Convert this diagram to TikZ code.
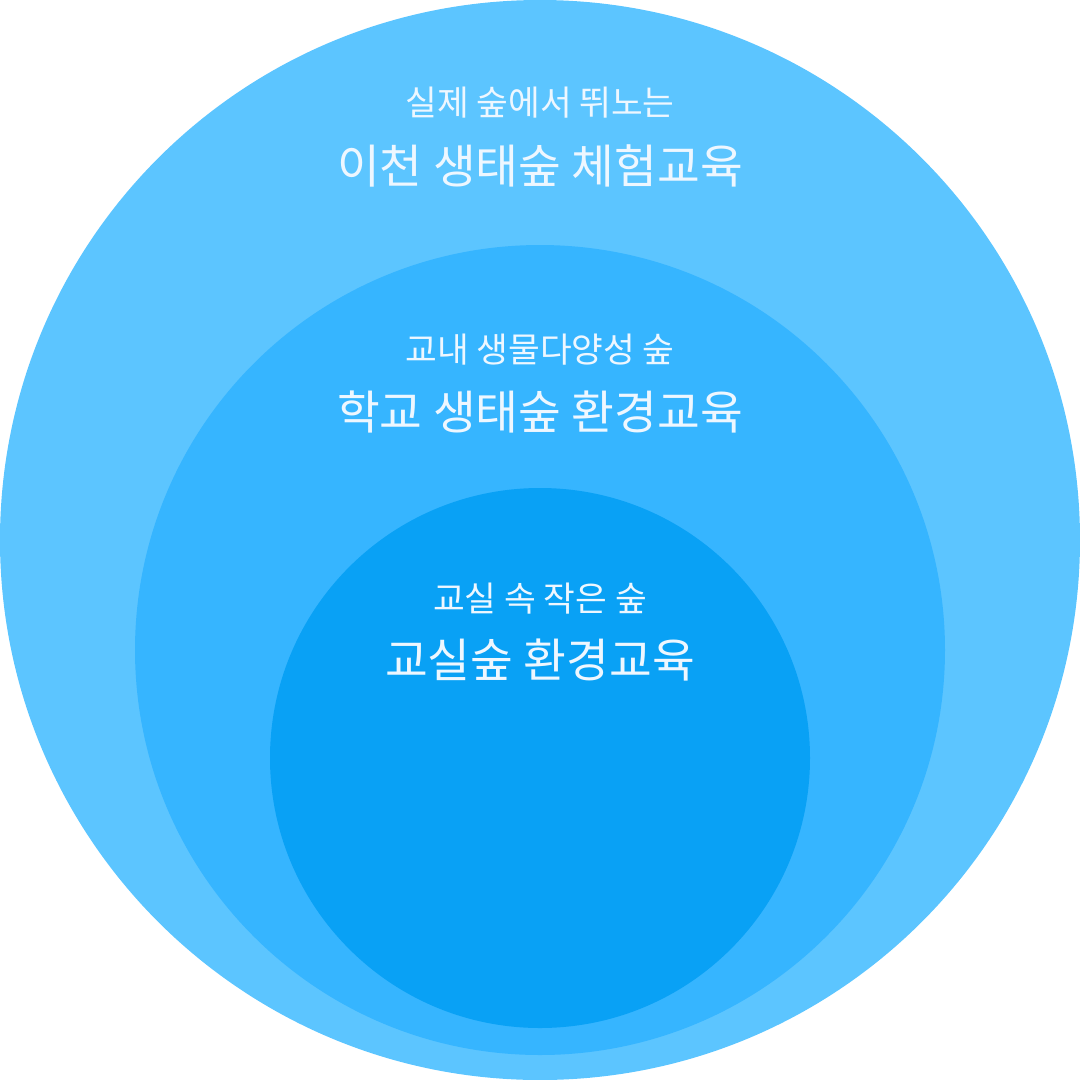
\documentclass[tikz,border=0pt]{standalone}
\usepackage{fontspec}
\newfontfamily\kr{Noto Sans CJK KR}
\definecolor{outerc}{HTML}{5CC5FF}
\definecolor{midc}{HTML}{36B5FF}
\definecolor{innerc}{HTML}{09A1F5}
\definecolor{txt}{HTML}{EEF7FF}
\begin{document}
\begin{tikzpicture}[x=1pt,y=-1pt,
  small/.style={text=txt,font=\kr\fontsize{34.5}{40}\selectfont,inner sep=0pt},
  big/.style={text=txt,font=\kr\fontsize{46.5}{52}\selectfont,inner sep=0pt}]
\useasboundingbox (0,0) rectangle (1080,1080);
\fill[outerc] (540,540) circle[radius=540];
\fill[midc] (540,650) circle[radius=405];
\fill[innerc] (540,758) circle[radius=270];
\node[small] (s1) at (540,103) {실제 숲에서 뛰노는};
\node[big] (b1) at (540,166) {이천 생태숲 체험교육};
\node[small] (s2) at (540,350) {교내 생물다양성 숲};
\node[big] (b2) at (540,412) {학교 생태숲 환경교육};
\node[small] (s3) at (540,599) {교실 속 작은 숲};
\node[big] (b3) at (540,660) {교실숲 환경교육};
\end{tikzpicture}
\end{document}
